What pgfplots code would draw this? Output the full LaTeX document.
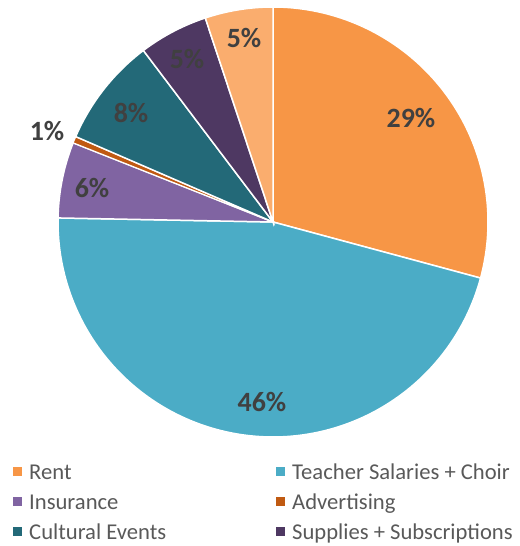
\documentclass[border=0pt]{standalone}
\usepackage{pgfplots}
\pgfplotsset{compat=1.18}
\usepackage{fontspec}
\setmainfont{Carlito}
\definecolor{cRent}{HTML}{F79646}
\definecolor{cTeach}{HTML}{4BACC6}
\definecolor{cIns}{HTML}{8064A2}
\definecolor{cAdv}{HTML}{C05A12}
\definecolor{cCult}{HTML}{236978}
\definecolor{cSup}{HTML}{4E3862}
\definecolor{cOther}{HTML}{FAAD6E}
\definecolor{lab}{HTML}{404040}
\definecolor{legtxt}{HTML}{595959}
% shares in percent (clockwise from 12 o'clock)
\def\pRent{29.2}
\def\pTeach{46.1}
\def\pIns{5.7}
\def\pAdv{0.5}
\def\pCult{8.2}
\def\pSup{5.2}
\def\pOther{5.1}
\def\cx{273}\def\cy{324}\def\pr{215}
\pgfmathsetmacro\aA{90}
\pgfmathsetmacro\aB{\aA-3.6*\pRent}
\pgfmathsetmacro\aC{\aB-3.6*\pTeach}
\pgfmathsetmacro\aD{\aC-3.6*\pIns}
\pgfmathsetmacro\aE{\aD-3.6*\pAdv}
\pgfmathsetmacro\aF{\aE-3.6*\pCult}
\pgfmathsetmacro\aG{\aF-3.6*\pSup}
\pgfmathsetmacro\aH{\aG-3.6*\pOther}
\begin{document}
\begin{tikzpicture}
\begin{axis}[
  x=1bp, y=1bp, xmin=0, xmax=518, ymin=0, ymax=546,
  scale only axis, hide axis, clip=false,
  legend columns=2,
  legend image code/.code={\fill[#1,draw=none] (0bp,-2.5bp) rectangle (9bp,6.5bp);},
  legend style={at={(axis cs:13,82)}, anchor=north west, draw=none, fill=none,
    inner sep=0pt, row sep=11bp,
    font=\fontsize{22.7}{24}\selectfont, text=legtxt,
    nodes={inner xsep=7bp, inner ysep=0bp, text height=15bp, text depth=4bp},
    /tikz/every even column/.append style={column sep=103bp}},
  legend cell align=left,
]
\addplot[draw=none, forget plot] coordinates {(0,0) (518,546)};
\addplot[fill=cRent, draw=white, line width=1.5bp, domain=\aB:\aA, samples=80]
  ({\cx+\pr*cos(x)},{\cy+\pr*sin(x)}) -- (axis cs:\cx,\cy) -- cycle;
\addlegendentry{Rent}
\addplot[fill=cTeach, draw=white, line width=1.5bp, domain=\aC:\aB, samples=120]
  ({\cx+\pr*cos(x)},{\cy+\pr*sin(x)}) -- (axis cs:\cx,\cy) -- cycle;
\addlegendentry{Teacher Salaries + Choir}
\addplot[fill=cIns, draw=white, line width=1.5bp, domain=\aD:\aC, samples=20]
  ({\cx+\pr*cos(x)},{\cy+\pr*sin(x)}) -- (axis cs:\cx,\cy) -- cycle;
\addlegendentry{Insurance}
\addplot[fill=cAdv, draw=white, line width=1.2bp, domain=\aE:\aD, samples=5]
  ({\cx+\pr*cos(x)},{\cy+\pr*sin(x)}) -- (axis cs:\cx,\cy) -- cycle;
\addlegendentry{Advertising}
\addplot[fill=cCult, draw=white, line width=1.5bp, domain=\aF:\aE, samples=30]
  ({\cx+\pr*cos(x)},{\cy+\pr*sin(x)}) -- (axis cs:\cx,\cy) -- cycle;
\addlegendentry{Cultural Events}
\addplot[fill=cSup, draw=white, line width=1.5bp, domain=\aG:\aF, samples=20]
  ({\cx+\pr*cos(x)},{\cy+\pr*sin(x)}) -- (axis cs:\cx,\cy) -- cycle;
\addlegendentry{Supplies + Subscriptions}
\addplot[fill=cOther, draw=white, line width=1.5bp, domain=\aH:\aG, samples=20, forget plot]
  ({\cx+\pr*cos(x)},{\cy+\pr*sin(x)}) -- (axis cs:\cx,\cy) -- cycle;
% data labels
\begin{scope}[every node/.style={font=\fontsize{28}{30}\selectfont\bfseries, text=lab}]
\node at (axis cs:411,428) {29\%};
\node at (axis cs:262,144) {46\%};
\node at (axis cs:92,358) {6\%};
\node at (axis cs:47,415) {1\%};
\node at (axis cs:131,433) {8\%};
\node at (axis cs:187,487) {5\%};
\node at (axis cs:244,508) {5\%};
\end{scope}
\end{axis}
\end{tikzpicture}
\end{document}
